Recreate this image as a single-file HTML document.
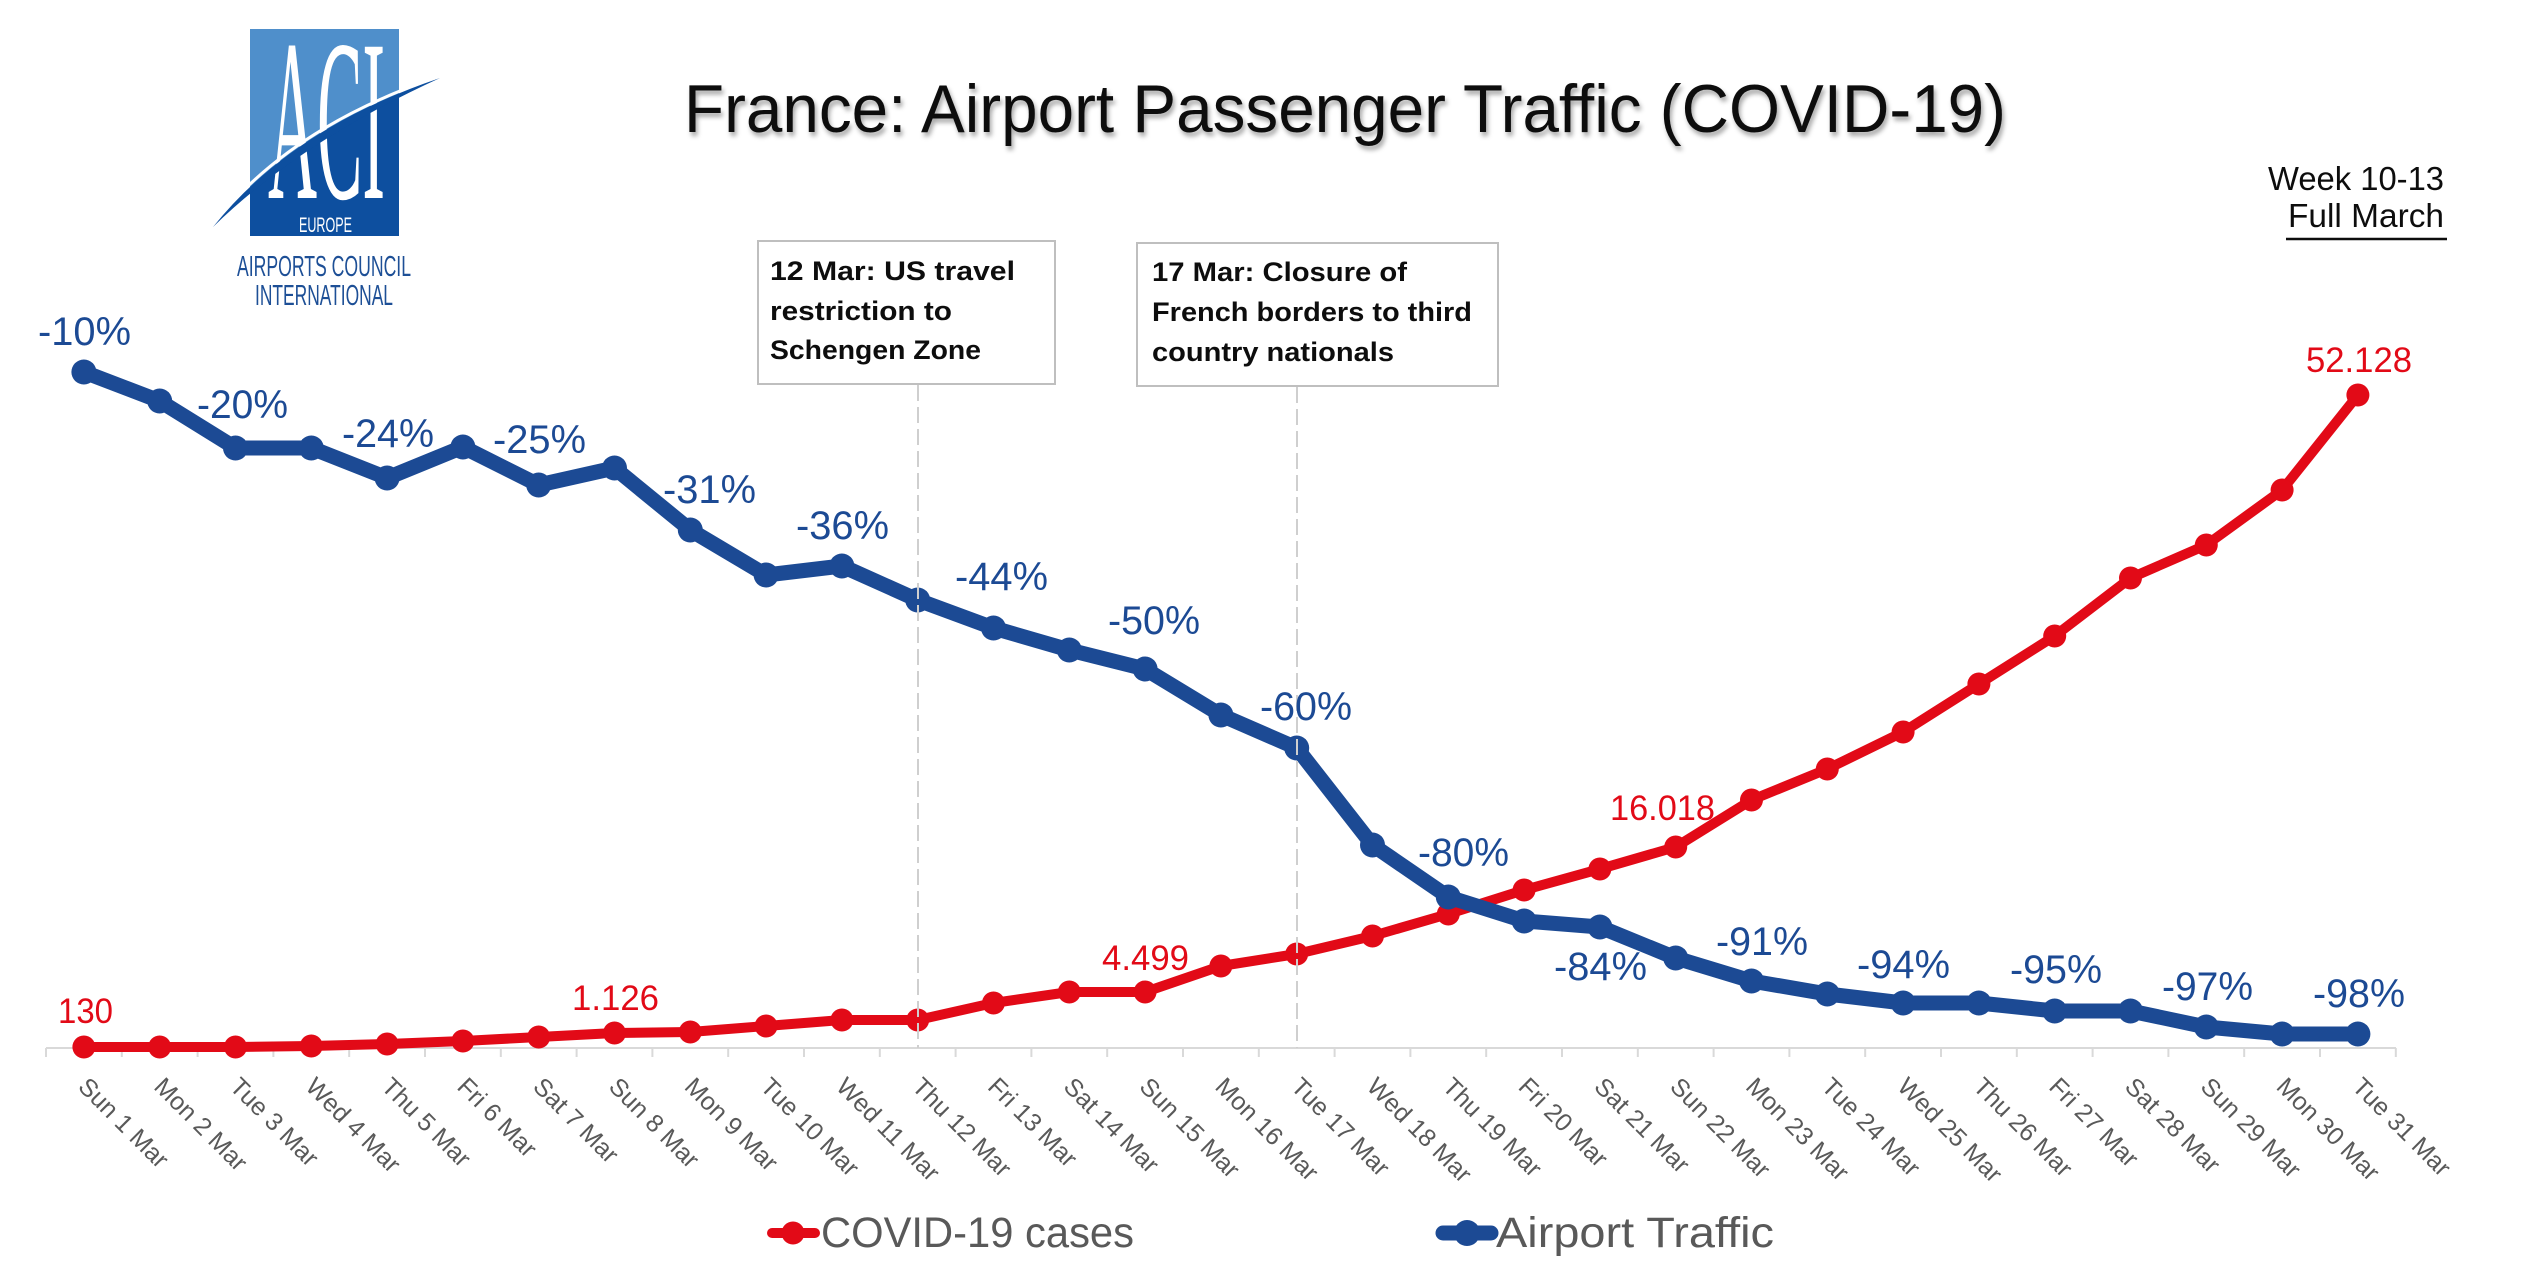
<!DOCTYPE html>
<html>
<head>
<meta charset="utf-8">
<style>
html,body{margin:0;padding:0;background:#fff;}
svg{display:block;}
text{font-family:"Liberation Sans",Arial,sans-serif;}
</style>
</head>
<body>
<svg width="2540" height="1279" viewBox="0 0 2540 1279" xmlns="http://www.w3.org/2000/svg">
<defs>
  <filter id="sh" x="-5%" y="-30%" width="110%" height="160%">
    <feDropShadow dx="2" dy="4" stdDeviation="2.5" flood-color="#000" flood-opacity="0.35"/>
  </filter>
  <clipPath id="logoclip"><rect x="250" y="29" width="149" height="207"/></clipPath>
</defs>
<rect width="2540" height="1279" fill="#fff"/>

<!-- Logo -->
<rect x="250" y="29" width="149" height="207" fill="#4f8fcb"/>
<path d="M215,225 Q295,132 438,79 L438,240 L215,240 Z" fill="#0d4f9f" clip-path="url(#logoclip)"/>
<text x="268" y="198" font-family="Liberation Serif,serif" font-size="231" fill="#fff" textLength="117" lengthAdjust="spacingAndGlyphs" style="font-family:'Liberation Serif',serif">ACI</text>
<path d="M213,227 Q292,128 440,78 Q300,142 213,227 Z" fill="#0d4f9f"/>
<path d="M215,222 Q292,126 438,77" fill="none" stroke="#fff" stroke-width="3" clip-path="url(#logoclip)"/>
<text x="299" y="232" font-size="21" fill="#fff" textLength="53" lengthAdjust="spacingAndGlyphs">EUROPE</text>
<text x="237" y="276" font-size="29" fill="#1d4f96" textLength="174" lengthAdjust="spacingAndGlyphs">AIRPORTS COUNCIL</text>
<text x="255" y="305" font-size="29" fill="#1d4f96" textLength="138" lengthAdjust="spacingAndGlyphs">INTERNATIONAL</text>

<!-- Title -->
<text x="684" y="132" font-size="68" fill="#0d0d0d" textLength="1322" lengthAdjust="spacingAndGlyphs" filter="url(#sh)">France: Airport Passenger Traffic (COVID-19)</text>

<!-- Week -->
<text x="2444" y="190" font-size="33" fill="#0d0d0d" text-anchor="end" textLength="176" lengthAdjust="spacingAndGlyphs">Week 10-13</text>
<text x="2444" y="227" font-size="33" fill="#0d0d0d" text-anchor="end" textLength="156" lengthAdjust="spacingAndGlyphs">Full March</text>
<line x1="2286" y1="239" x2="2447" y2="239" stroke="#0d0d0d" stroke-width="2.5"/>

<!-- Annotation boxes -->
<rect x="758" y="241" width="297" height="143" fill="#fff" stroke="#bfbfbf" stroke-width="2"/>
<text x="770" y="280" font-size="27" font-weight="bold" fill="#0d0d0d" textLength="245" lengthAdjust="spacingAndGlyphs">12 Mar: US travel</text>
<text x="770" y="320" font-size="27" font-weight="bold" fill="#0d0d0d" textLength="182" lengthAdjust="spacingAndGlyphs">restriction to</text>
<text x="770" y="359" font-size="27" font-weight="bold" fill="#0d0d0d" textLength="211" lengthAdjust="spacingAndGlyphs">Schengen Zone</text>

<rect x="1137" y="243" width="361" height="143" fill="#fff" stroke="#bfbfbf" stroke-width="2"/>
<text x="1152" y="281" font-size="27" font-weight="bold" fill="#0d0d0d" textLength="255" lengthAdjust="spacingAndGlyphs">17 Mar: Closure of</text>
<text x="1152" y="321" font-size="27" font-weight="bold" fill="#0d0d0d" textLength="320" lengthAdjust="spacingAndGlyphs">French borders to third</text>
<text x="1152" y="361" font-size="27" font-weight="bold" fill="#0d0d0d" textLength="242" lengthAdjust="spacingAndGlyphs">country nationals</text>

<!-- Axis -->
<line x1="46" y1="1048" x2="2396" y2="1048" stroke="#d9d9d9" stroke-width="2"/>
<path d="M46,1048V1057 M121.8,1048V1057 M197.6,1048V1057 M273.4,1048V1057 M349.2,1048V1057 M425,1048V1057 M500.8,1048V1057 M576.6,1048V1057 M652.4,1048V1057 M728.2,1048V1057 M804,1048V1057 M879.8,1048V1057 M955.6,1048V1057 M1031.4,1048V1057 M1107.2,1048V1057 M1183,1048V1057 M1258.8,1048V1057 M1334.6,1048V1057 M1410.4,1048V1057 M1486.2,1048V1057 M1562,1048V1057 M1637.8,1048V1057 M1713.6,1048V1057 M1789.4,1048V1057 M1865.2,1048V1057 M1941,1048V1057 M2016.8,1048V1057 M2092.6,1048V1057 M2168.4,1048V1057 M2244.2,1048V1057 M2320,1048V1057 M2395.8,1048V1057" stroke="#d9d9d9" stroke-width="2" fill="none"/>

<!-- Axis labels -->
<g font-size="25" fill="#595959">
<text transform="translate(76.9,1088) rotate(45)">Sun 1 Mar</text>
<text transform="translate(152.7,1088) rotate(45)">Mon 2 Mar</text>
<text transform="translate(228.5,1088) rotate(45)">Tue 3 Mar</text>
<text transform="translate(304.3,1088) rotate(45)">Wed 4 Mar</text>
<text transform="translate(380.1,1088) rotate(45)">Thu 5 Mar</text>
<text transform="translate(455.9,1088) rotate(45)">Fri 6 Mar</text>
<text transform="translate(531.7,1088) rotate(45)">Sat 7 Mar</text>
<text transform="translate(607.5,1088) rotate(45)">Sun 8 Mar</text>
<text transform="translate(683.3,1088) rotate(45)">Mon 9 Mar</text>
<text transform="translate(759.1,1088) rotate(45)">Tue 10 Mar</text>
<text transform="translate(834.9,1088) rotate(45)">Wed 11 Mar</text>
<text transform="translate(910.7,1088) rotate(45)">Thu 12 Mar</text>
<text transform="translate(986.5,1088) rotate(45)">Fri 13 Mar</text>
<text transform="translate(1062.3,1088) rotate(45)">Sat 14 Mar</text>
<text transform="translate(1138.1,1088) rotate(45)">Sun 15 Mar</text>
<text transform="translate(1213.9,1088) rotate(45)">Mon 16 Mar</text>
<text transform="translate(1289.7,1088) rotate(45)">Tue 17 Mar</text>
<text transform="translate(1365.5,1088) rotate(45)">Wed 18 Mar</text>
<text transform="translate(1441.3,1088) rotate(45)">Thu 19 Mar</text>
<text transform="translate(1517.1,1088) rotate(45)">Fri 20 Mar</text>
<text transform="translate(1592.9,1088) rotate(45)">Sat 21 Mar</text>
<text transform="translate(1668.7,1088) rotate(45)">Sun 22 Mar</text>
<text transform="translate(1744.5,1088) rotate(45)">Mon 23 Mar</text>
<text transform="translate(1820.3,1088) rotate(45)">Tue 24 Mar</text>
<text transform="translate(1896.1,1088) rotate(45)">Wed 25 Mar</text>
<text transform="translate(1971.9,1088) rotate(45)">Thu 26 Mar</text>
<text transform="translate(2047.7,1088) rotate(45)">Fri 27 Mar</text>
<text transform="translate(2123.5,1088) rotate(45)">Sat 28 Mar</text>
<text transform="translate(2199.3,1088) rotate(45)">Sun 29 Mar</text>
<text transform="translate(2275.1,1088) rotate(45)">Mon 30 Mar</text>
<text transform="translate(2350.9,1088) rotate(45)">Tue 31 Mar</text>
</g>

<!-- Red series -->
<polyline fill="none" stroke="#e20a17" stroke-width="10" stroke-linejoin="round" stroke-linecap="round"
 points="83.9,1047 159.7,1047 235.5,1047 311.3,1046 387.1,1044 462.9,1041 538.7,1037 614.5,1033 690.3,1032 766.1,1026 841.9,1020 917.7,1020 993.5,1003 1069.3,992 1145.1,992 1220.9,966 1296.7,954 1372.5,936 1448.3,914 1524.1,890 1599.9,869 1675.7,847 1751.5,800 1827.3,769 1903.1,732 1978.9,684 2054.7,636 2130.5,578 2206.3,545 2282.1,490 2357.9,395"/>
<g fill="#e20a17">
<circle cx="83.9" cy="1047" r="11.5"/><circle cx="159.7" cy="1047" r="11.5"/><circle cx="235.5" cy="1047" r="11.5"/><circle cx="311.3" cy="1046" r="11.5"/><circle cx="387.1" cy="1044" r="11.5"/><circle cx="462.9" cy="1041" r="11.5"/><circle cx="538.7" cy="1037" r="11.5"/><circle cx="614.5" cy="1033" r="11.5"/><circle cx="690.3" cy="1032" r="11.5"/><circle cx="766.1" cy="1026" r="11.5"/><circle cx="841.9" cy="1020" r="11.5"/><circle cx="917.7" cy="1020" r="11.5"/><circle cx="993.5" cy="1003" r="11.5"/><circle cx="1069.3" cy="992" r="11.5"/><circle cx="1145.1" cy="992" r="11.5"/><circle cx="1220.9" cy="966" r="11.5"/><circle cx="1296.7" cy="954" r="11.5"/><circle cx="1372.5" cy="936" r="11.5"/><circle cx="1448.3" cy="914" r="11.5"/><circle cx="1524.1" cy="890" r="11.5"/><circle cx="1599.9" cy="869" r="11.5"/><circle cx="1675.7" cy="847" r="11.5"/><circle cx="1751.5" cy="800" r="11.5"/><circle cx="1827.3" cy="769" r="11.5"/><circle cx="1903.1" cy="732" r="11.5"/><circle cx="1978.9" cy="684" r="11.5"/><circle cx="2054.7" cy="636" r="11.5"/><circle cx="2130.5" cy="578" r="11.5"/><circle cx="2206.3" cy="545" r="11.5"/><circle cx="2282.1" cy="490" r="11.5"/><circle cx="2357.9" cy="395" r="11.5"/>
</g>

<!-- Blue series -->
<polyline fill="none" stroke="#1c4a94" stroke-width="15" stroke-linejoin="round" stroke-linecap="round"
 points="83.9,372 159.7,401 235.5,448 311.3,448 387.1,478 462.9,447 538.7,485 614.5,468 690.3,530 766.1,575 841.9,566 917.7,600 993.5,628 1069.3,650 1145.1,669 1220.9,715 1296.7,748 1372.5,845 1448.3,897 1524.1,921 1599.9,927 1675.7,958 1751.5,981 1827.3,994 1903.1,1003 1978.9,1003 2054.7,1011 2130.5,1011 2206.3,1027 2282.1,1034 2357.9,1034"/>
<g fill="#1c4a94">
<circle cx="83.9" cy="372" r="12.5"/><circle cx="159.7" cy="401" r="12.5"/><circle cx="235.5" cy="448" r="12.5"/><circle cx="311.3" cy="448" r="12.5"/><circle cx="387.1" cy="478" r="12.5"/><circle cx="462.9" cy="447" r="12.5"/><circle cx="538.7" cy="485" r="12.5"/><circle cx="614.5" cy="468" r="12.5"/><circle cx="690.3" cy="530" r="12.5"/><circle cx="766.1" cy="575" r="12.5"/><circle cx="841.9" cy="566" r="12.5"/><circle cx="917.7" cy="600" r="12.5"/><circle cx="993.5" cy="628" r="12.5"/><circle cx="1069.3" cy="650" r="12.5"/><circle cx="1145.1" cy="669" r="12.5"/><circle cx="1220.9" cy="715" r="12.5"/><circle cx="1296.7" cy="748" r="12.5"/><circle cx="1372.5" cy="845" r="12.5"/><circle cx="1448.3" cy="897" r="12.5"/><circle cx="1524.1" cy="921" r="12.5"/><circle cx="1599.9" cy="927" r="12.5"/><circle cx="1675.7" cy="958" r="12.5"/><circle cx="1751.5" cy="981" r="12.5"/><circle cx="1827.3" cy="994" r="12.5"/><circle cx="1903.1" cy="1003" r="12.5"/><circle cx="1978.9" cy="1003" r="12.5"/><circle cx="2054.7" cy="1011" r="12.5"/><circle cx="2130.5" cy="1011" r="12.5"/><circle cx="2206.3" cy="1027" r="12.5"/><circle cx="2282.1" cy="1034" r="12.5"/><circle cx="2357.9" cy="1034" r="12.5"/>
</g>

<!-- Dashed event lines -->
<line x1="918" y1="385" x2="918" y2="1048" stroke="#cfcfcf" stroke-width="2" stroke-dasharray="16 6"/>
<line x1="1297" y1="387" x2="1297" y2="1048" stroke="#cfcfcf" stroke-width="2" stroke-dasharray="16 6"/>

<!-- Blue labels -->
<g font-size="40" fill="#1c4a94">
<text x="38" y="345" textLength="93" lengthAdjust="spacingAndGlyphs">-10%</text>
<text x="197" y="418" textLength="91" lengthAdjust="spacingAndGlyphs">-20%</text>
<text x="342" y="447" textLength="92" lengthAdjust="spacingAndGlyphs">-24%</text>
<text x="493" y="453" textLength="93" lengthAdjust="spacingAndGlyphs">-25%</text>
<text x="663" y="503" textLength="93" lengthAdjust="spacingAndGlyphs">-31%</text>
<text x="796" y="539" textLength="93" lengthAdjust="spacingAndGlyphs">-36%</text>
<text x="955" y="590" textLength="93" lengthAdjust="spacingAndGlyphs">-44%</text>
<text x="1108" y="634" textLength="92" lengthAdjust="spacingAndGlyphs">-50%</text>
<text x="1260" y="720" textLength="92" lengthAdjust="spacingAndGlyphs">-60%</text>
<text x="1418" y="866" textLength="91" lengthAdjust="spacingAndGlyphs">-80%</text>
<text x="1554" y="980" textLength="93" lengthAdjust="spacingAndGlyphs">-84%</text>
<text x="1716" y="955" textLength="92" lengthAdjust="spacingAndGlyphs">-91%</text>
<text x="1857" y="978" textLength="93" lengthAdjust="spacingAndGlyphs">-94%</text>
<text x="2010" y="983" textLength="92" lengthAdjust="spacingAndGlyphs">-95%</text>
<text x="2162" y="1000" textLength="91" lengthAdjust="spacingAndGlyphs">-97%</text>
<text x="2313" y="1007" textLength="92" lengthAdjust="spacingAndGlyphs">-98%</text>
</g>

<!-- Red labels -->
<g font-size="35" fill="#e20a17">
<text x="58" y="1023" textLength="55" lengthAdjust="spacingAndGlyphs">130</text>
<text x="572" y="1010" textLength="87" lengthAdjust="spacingAndGlyphs">1.126</text>
<text x="1102" y="970" textLength="87" lengthAdjust="spacingAndGlyphs">4.499</text>
<text x="1610" y="820" textLength="105" lengthAdjust="spacingAndGlyphs">16.018</text>
<text x="2306" y="372" textLength="106" lengthAdjust="spacingAndGlyphs">52.128</text>
</g>

<!-- Legend -->
<line x1="772" y1="1233" x2="815" y2="1233" stroke="#e20a17" stroke-width="10" stroke-linecap="round"/>
<circle cx="793" cy="1233" r="11.5" fill="#e20a17"/>
<text x="821" y="1247" font-size="43" fill="#595959" textLength="313" lengthAdjust="spacingAndGlyphs">COVID-19 cases</text>
<line x1="1443" y1="1233" x2="1491" y2="1233" stroke="#1c4a94" stroke-width="15" stroke-linecap="round"/>
<circle cx="1467" cy="1233" r="13" fill="#1c4a94"/>
<text x="1496" y="1247" font-size="43" fill="#595959" textLength="278" lengthAdjust="spacingAndGlyphs">Airport Traffic</text>
</svg>
</body>
</html>
